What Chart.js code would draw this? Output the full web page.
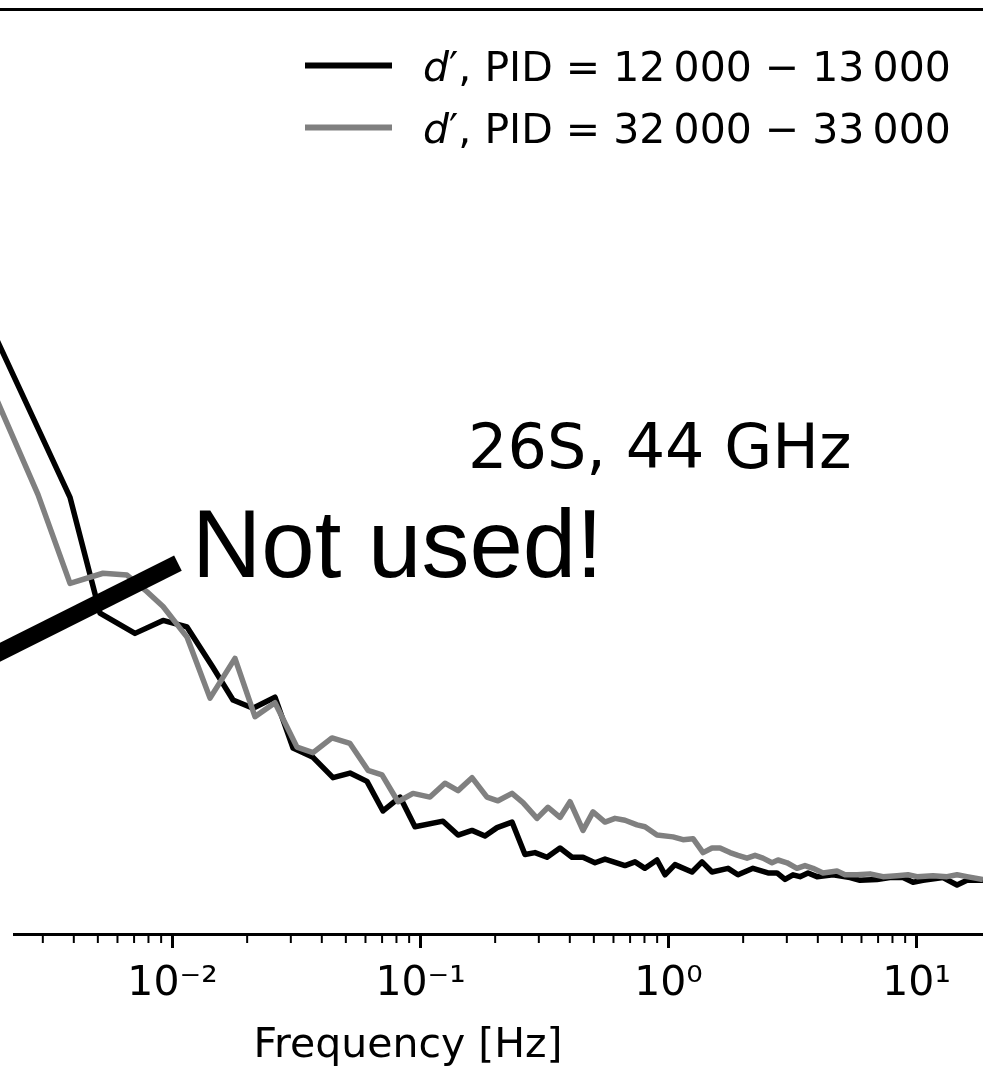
<!DOCTYPE html>
<html>
<head>
<meta charset="utf-8">
<script src="https://cdn.jsdelivr.net/npm/chart.js@4.4.1/dist/chart.umd.min.js"></script>
<style>
  html, body { margin: 0; padding: 0; background: #fff; }
</style>
</head>
<body>
<canvas id="psdChart" width="983" height="1066"></canvas>
<script>
// frequency [Hz] and power (relative units)
const freqLow = [0.001526, 0.003862, 0.00510, 0.00706, 0.00916, 0.01144, 0.01457, 0.01754, 0.02111, 0.02590,
  0.03062, 0.03687, 0.04438, 0.05196, 0.06085, 0.0706, 0.0827, 0.0950, 0.1232, 0.1417,
  0.1613, 0.1820, 0.2035, 0.2339, 0.2638, 0.2895, 0.3237, 0.3652, 0.4083, 0.4521,
  0.5053, 0.5546, 0.6677, 0.7326, 0.8039, 0.8987, 0.9681, 1.062, 1.244, 1.365,
  1.498, 1.738, 1.906, 2.191, 2.519, 2.738, 2.950, 3.177, 3.390, 3.652,
  3.970, 4.607, 5.395, 5.918, 6.930, 7.817, 8.824, 9.681, 10.62, 12.79,
  14.57, 15.98, 18.54];
const psdLow = [70.5, 47.2, 34.7, 32.5, 33.9, 33.2, 28.8, 25.3, 24.4, 25.6,
  20.1, 19.1, 16.9, 17.4, 16.5, 13.3, 14.8, 11.6, 12.2, 10.7,
  11.2, 10.6, 11.5, 12.1, 8.6, 8.8, 8.3, 9.3, 8.3, 8.3,
  7.7, 8.1, 7.4, 7.8, 7.1, 8.0, 6.4, 7.5, 6.7, 7.8,
  6.7, 7.1, 6.4, 7.1, 6.6, 6.6, 5.9, 6.4, 6.2, 6.6,
  6.2, 6.4, 6.1, 5.8, 5.9, 6.1, 6.1, 5.6, 5.8, 6.1,
  5.3, 5.8, 5.8];

const freqHigh = [0.001526, 0.002869, 0.003862, 0.005245, 0.006553, 0.007893, 0.00916, 0.01144, 0.01417, 0.01786,
  0.02151, 0.02590, 0.03177, 0.03687, 0.04396, 0.05196, 0.06142, 0.06995, 0.08116, 0.09328,
  0.1092, 0.1255, 0.1417, 0.1613, 0.1854, 0.2053, 0.2339, 0.2590, 0.2950, 0.3267,
  0.3652, 0.4008, 0.4521, 0.4961, 0.5546, 0.6085, 0.6677, 0.7464, 0.8039, 0.8987,
  1.043, 1.144, 1.256, 1.378, 1.498, 1.613, 1.770, 1.906, 2.073, 2.233,
  2.404, 2.614, 2.764, 3.005, 3.297, 3.551, 3.825, 4.198, 4.781, 5.149,
  5.756, 6.494, 7.326, 8.344, 9.242, 10.05, 11.65, 13.27, 14.57, 15.98,
  18.54];
const psdHigh = [64.4, 47.5, 37.9, 39.0, 38.8, 37.0, 35.4, 32.1, 25.5, 29.8,
  23.5, 25.0, 20.2, 19.6, 21.2, 20.6, 17.7, 17.2, 14.3, 15.2,
  14.8, 16.3, 15.5, 16.9, 14.8, 14.4, 15.2, 14.2, 12.5, 13.7,
  12.6, 14.3, 11.2, 13.2, 12.1, 12.5, 12.3, 11.8, 11.6, 10.7,
  10.5, 10.2, 10.3, 8.8, 9.3, 9.3, 8.8, 8.5, 8.2, 8.5,
  8.2, 7.7, 8.0, 7.7, 7.1, 7.4, 7.1, 6.6, 6.8, 6.4,
  6.4, 6.5, 6.2, 6.3, 6.4, 6.2, 6.3, 6.2, 6.4, 6.2,
  5.9];

// the thick "Not used!" strike line
const strikeFreq = [0.00139, 0.01052];
const strikeLevel = [28.3, 40.1];

const seriesLabels = ['d′, PID = 12\u2009000 − 13\u2009000', 'd′, PID = 32\u2009000 − 33\u2009000'];
const majorTicks = [0.01, 0.1, 1, 10];
const tickLabels = ['10⁻²', '10⁻¹', '10⁰', '10¹'];

const xMin = 0.0022957, xMax = 18.54;

// tick marks: decades plus 2..9 minors inside the range
const allTicks = [];
[0.001, 0.01, 0.1, 1, 10].forEach(d => {
  for (let m = 1; m <= 9; m++) {
    const v = m === 1 ? d : +(m * d).toPrecision(3);
    if (v >= xMin && v <= xMax) allTicks.push(v);
  }
});

const toPoints = (xs, ys) => xs.map((f, i) => ({x: f, y: ys[i]}));

const decorations = {
  id: 'decorations',
  afterDraw(chart) {
    const {ctx, chartArea, scales: {x}} = chart;
    ctx.save();
    ctx.strokeStyle = '#000';
    ctx.fillStyle = '#000';

    // top spine
    ctx.lineWidth = 3;
    ctx.beginPath();
    ctx.moveTo(0, chartArea.top + 0.5);
    ctx.lineTo(chart.width, chartArea.top + 0.5);
    ctx.stroke();

    // ticks, long for decades
    x.ticks.forEach(t => {
      const px = x.getPixelForValue(t.value);
      const major = majorTicks.some(m => Math.abs(m - t.value) / m < 1e-6);
      ctx.lineWidth = major ? 3 : 2;
      ctx.beginPath();
      ctx.moveTo(px, chartArea.bottom);
      ctx.lineTo(px, chartArea.bottom + (major ? 14 : 9));
      ctx.stroke();
    });

    // axis title
    ctx.font = '41px "DejaVu Sans"';
    ctx.textAlign = 'center';
    ctx.textBaseline = 'alphabetic';
    ctx.fillText('Frequency [Hz]', 408, 1057);

    // annotations
    ctx.textAlign = 'left';
    ctx.font = '62px "DejaVu Sans"';
    ctx.fillText('26S, 44 GHz', 468, 468);
    ctx.font = '96px "Liberation Sans", Arial, sans-serif';
    ctx.fillText('Not used!', 192, 577);

    // legend
    const rows = [65.5, 127.5];
    [0, 1].forEach(i => {
      const ds = chart.data.datasets.find(d => d.label === seriesLabels[i]);
      const y = rows[i];
      ctx.strokeStyle = ds.borderColor;
      ctx.lineWidth = 6;
      ctx.lineCap = 'butt';
      ctx.beginPath();
      ctx.moveTo(305, y);
      ctx.lineTo(392, y);
      ctx.stroke();
      const label = ds.label;
      ctx.fillStyle = '#000';
      ctx.font = 'italic 41px "DejaVu Sans"';
      ctx.fillText(label[0], 423, y + 15);
      const w = ctx.measureText(label[0]).width;
      ctx.font = '41px "DejaVu Sans"';
      ctx.fillText(label.slice(1), 423 + w, y + 15);
    });
    ctx.restore();
  }
};

const lineStyle = {
  borderWidth: 5.5,
  pointRadius: 0,
  tension: 0,
  fill: false,
  borderJoinStyle: 'round',
  clip: false
};

const psdChart = new Chart(document.getElementById('psdChart'), {
  type: 'line',
  data: {
    datasets: [
      {label: 'strike', data: toPoints(strikeFreq, strikeLevel), borderColor: '#000', borderWidth: 17,
        borderCapStyle: 'butt', pointRadius: 0, clip: false, order: 0},
      {label: seriesLabels[1], data: toPoints(freqHigh, psdHigh), borderColor: '#808080', order: 1, ...lineStyle},
      {label: seriesLabels[0], data: toPoints(freqLow, psdLow), borderColor: '#000000', order: 2, ...lineStyle}
    ]
  },
  options: {
    responsive: false,
    animation: false,
    events: [],
    layout: {padding: {top: 9, left: 14, right: 0, bottom: 0}},
    scales: {
      x: {
        type: 'logarithmic',
        min: xMin,
        max: xMax,
        grid: {display: false, drawTicks: false},
        border: {display: true, width: 3, color: '#000'},
        ticks: {
          autoSkip: false,
          maxRotation: 0,
          padding: 26,
          color: '#000',
          font: {family: 'DejaVu Sans', size: 41},
          callback: v => {
            const i = majorTicks.findIndex(m => Math.abs(m - v) / m < 1e-6);
            return i >= 0 ? tickLabels[i] : '';
          }
        },
        afterBuildTicks: scale => {
          scale.ticks = allTicks.map(v => ({value: v}));
        },
        afterFit: scale => {
          scale.height = 132;
        }
      },
      y: {type: 'linear', display: false, min: 0, max: 100}
    },
    plugins: {
      legend: {display: false},
      tooltip: {enabled: false}
    }
  },
  plugins: [decorations]
});
</script>
</body>
</html>
